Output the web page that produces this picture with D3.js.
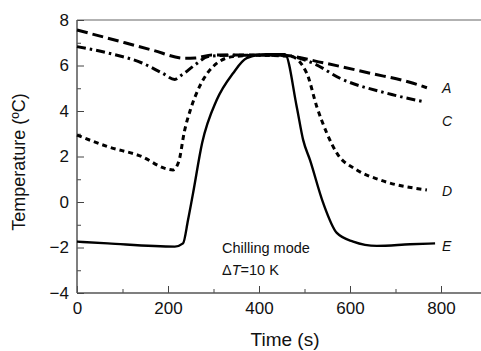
<!DOCTYPE html>
<html>
<head>
<meta charset="utf-8">
<script src="https://cdn.jsdelivr.net/npm/d3@7"></script>
<style>
  body { margin: 0; background: #fff; }
  svg { font-family: "Liberation Sans", Arial, sans-serif; }
  .axis path, .axis line { stroke: #444; }
  .axis text { font-size: 17px; fill: #111; }
</style>
</head>
<body>
<div id="chart"></div>
<script>
// values: [time (s), temperature (C)]
var curveA = [[0,7.56],[68,7.2],[165,6.68],[237,6.32],[260,6.33],[297,6.46],[360,6.46],[450,6.45],[541,6.12],[644,5.66],[739,5.22],[769,5.02]];
var curveC = [[0,6.83],[68,6.55],[143,6.11],[187,5.67],[215,5.39],[230,5.58],[259,6.02],[288,6.39],[330,6.45],[450,6.45],[519,6.1],[578,5.44],[681,4.78],[761,4.41]];
var curveD = [[0,2.94],[68,2.43],[143,1.99],[193,1.48],[211,1.41],[224,1.8],[236,3.1],[250,4.1],[270,5.1],[299,5.95],[343,6.39],[400,6.45],[470,6.4],[505,5.66],[527,4.19],[549,3.03],[571,2.15],[615,1.41],[666,0.97],[769,0.53]];
var curveE = [[0,-1.74],[68,-1.82],[215,-1.96],[233,-1.82],[244,-0.79],[255,0.38],[275,2.59],[307,4.48],[343,5.66],[373,6.32],[417,6.5],[457,6.5],[483,4.18],[497,2.73],[512,1.85],[541,-0.04],[571,-1.36],[607,-1.74],[659,-1.93],[732,-1.86],[787,-1.82]];
var seriesNames = ["A", "C", "D", "E"];
var xTicks = [0, 200, 400, 600, 800];
var xMinor = [100, 300, 500, 700];
var yTicks = [-4, -2, 0, 2, 4, 6, 8];
var yMinor = [-3, -1, 1, 3, 5, 7];

var W = 481, H = 351;
var x = d3.scaleLinear().domain([0, 800]).range([77, 441]);
var y = d3.scaleLinear().domain([-4, 8]).range([293, 20]);

var svg = d3.select("#chart").append("svg")
    .attr("width", W)
    .attr("height", H);

// frame: top line and left/bottom axes
svg.append("line")
    .attr("x1", x(0)).attr("x2", W)
    .attr("y1", y(8)).attr("y2", y(8))
    .attr("stroke", "#666").attr("stroke-width", 1.2);

svg.append("g")
    .attr("class", "axis")
    .attr("transform", "translate(0," + y(-4) + ")")
    .call(d3.axisBottom(x).tickValues(xTicks).tickSizeInner(-7).tickSizeOuter(0).tickPadding(9))
    .call(function(g){ g.select(".domain").remove(); });

svg.append("g")
    .attr("class", "axis")
    .attr("transform", "translate(0," + y(-4) + ")")
    .call(d3.axisBottom(x).tickValues(xMinor).tickSizeInner(-4).tickSizeOuter(0).tickFormat(""))
    .call(function(g){ g.select(".domain").remove(); });

svg.append("line")
    .attr("x1", x(0)).attr("x2", W)
    .attr("y1", y(-4)).attr("y2", y(-4))
    .attr("stroke", "#555").attr("stroke-width", 1.3);

svg.append("g")
    .attr("class", "axis")
    .attr("transform", "translate(" + x(0) + ",0)")
    .call(d3.axisLeft(y).tickValues(yTicks).tickSizeInner(-7).tickSizeOuter(0).tickPadding(8))
    .call(function(g){ g.select(".domain").remove(); });

svg.append("g")
    .attr("class", "axis")
    .attr("transform", "translate(" + x(0) + ",0)")
    .call(d3.axisLeft(y).tickValues(yMinor).tickSizeInner(-4).tickSizeOuter(0).tickFormat(""))
    .call(function(g){ g.select(".domain").remove(); });

svg.append("line")
    .attr("x1", x(0)).attr("x2", x(0))
    .attr("y1", y(8)).attr("y2", y(-4))
    .attr("stroke", "#555").attr("stroke-width", 1.5);

// curves
var line = d3.line()
    .x(function(d) { return x(d[0]); })
    .y(function(d) { return y(d[1]); })
    .curve(d3.curveMonotoneX);

var styles = [
  {data: curveA, dash: "11,5", w: 3},
  {data: curveC, dash: "9,4,2.5,4", w: 3},
  {data: curveD, dash: "5,4", w: 3},
  {data: curveE, dash: null, w: 2.4}
];

styles.forEach(function(s) {
  svg.append("path")
      .datum(s.data)
      .attr("fill", "none")
      .attr("stroke", "#000")
      .attr("stroke-width", s.w)
      .attr("stroke-dasharray", s.dash)
      .attr("d", line);
});

// series labels
var labelY = [5.0, 3.55, 0.5, -1.95];
seriesNames.forEach(function(n, i) {
  svg.append("text")
      .attr("x", 442)
      .attr("y", y(labelY[i]) + 5)
      .attr("font-size", 14)
      .attr("font-style", "italic")
      .attr("fill", "#111")
      .text(n);
});

// annotation
svg.append("text")
    .attr("x", 222).attr("y", 253)
    .attr("font-size", 14.5).attr("fill", "#111")
    .text("Chilling mode");

var dt = svg.append("text")
    .attr("x", 222).attr("y", 275)
    .attr("font-size", 14.5).attr("fill", "#111");
dt.append("tspan").text("\u0394");
dt.append("tspan").attr("font-style", "italic").text("T");
dt.append("tspan").text("=10 K");

// axis titles
svg.append("text")
    .attr("x", 285).attr("y", 346)
    .attr("text-anchor", "middle")
    .attr("font-size", 19).attr("fill", "#111")
    .text("Time (s)");

svg.append("text")
    .attr("transform", "translate(25,162) rotate(-90)")
    .attr("text-anchor", "middle")
    .attr("font-size", 18).attr("fill", "#111")
    .text("Temperature (\u00baC)");
</script>
</body>
</html>
